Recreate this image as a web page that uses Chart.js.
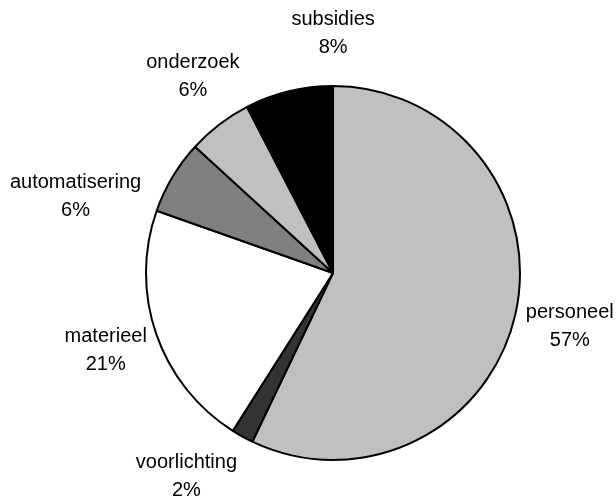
<!DOCTYPE html>
<html>
<head>
<meta charset="utf-8">
<script src="https://cdn.jsdelivr.net/npm/chart.js@4/dist/chart.umd.min.js"></script>
<style>
    html, body { margin: 0; padding: 0; background: #fff; }
    #wrap { width: 616px; height: 498px; }
</style>
</head>
<body>
<div id="wrap"><canvas id="js--chart"></canvas></div>
<script>
// uitgaven per post
const labels = ["personeel", "voorlichting", "materieel", "automatisering", "onderzoek", "subsidies"];
const values = [57.1, 1.9, 21.4, 6.4, 5.6, 7.6];
const colors = ["#c0c0c0", "#333333", "#ffffff", "#808080", "#c0c0c0", "#000000"];

// label plaatsing: afstand buiten de taart en draaiing t.o.v. midden van het stuk (graden)
const labelGap = [57, 68, 55, 80, 50, 47];
const labelTurn = [1.2, 6.1, -1.0, -15.6, 1.2, 13.7];

const pieLabels = {
    id: "pieLabels",
    afterDraw(chart) {
        const ctx = chart.ctx;
        const meta = chart.getDatasetMeta(0);
        const total = values.reduce((a, b) => a + b, 0);
        ctx.save();
        ctx.font = '20px "Liberation Sans", Arial, sans-serif';
        ctx.fillStyle = "#000";
        ctx.textAlign = "center";
        ctx.textBaseline = "alphabetic";
        meta.data.forEach(function (arc, i) {
            const mid = (arc.startAngle + arc.endAngle) / 2 + labelTurn[i] * Math.PI / 180;
            const d = arc.outerRadius + labelGap[i];
            const x = arc.x + d * Math.cos(mid);
            const y = arc.y + d * Math.sin(mid);
            const pct = Math.round(values[i] / total * 100) + "%";
            ctx.fillText(labels[i], x, y - 14);
            ctx.fillText(pct, x, y + 14);
        });
        ctx.restore();
    }
};

const data = {
    labels: labels,
    datasets: [
        {
            data: values,
            backgroundColor: colors,
            borderColor: "#000",
            borderWidth: 2,
            radius: 187
        }
    ]
};

const config = {
    type: "pie",
    data: data,
    options: {
        responsive: true,
        maintainAspectRatio: false,
        animation: false,
        layout: { padding: { left: 50, right: 0, top: 48, bottom: 0 } },
        plugins: {
            legend: { display: false },
            tooltip: { enabled: false }
        }
    },
    plugins: [pieLabels]
};

new Chart(document.getElementById("js--chart"), config);
</script>
</body>
</html>
